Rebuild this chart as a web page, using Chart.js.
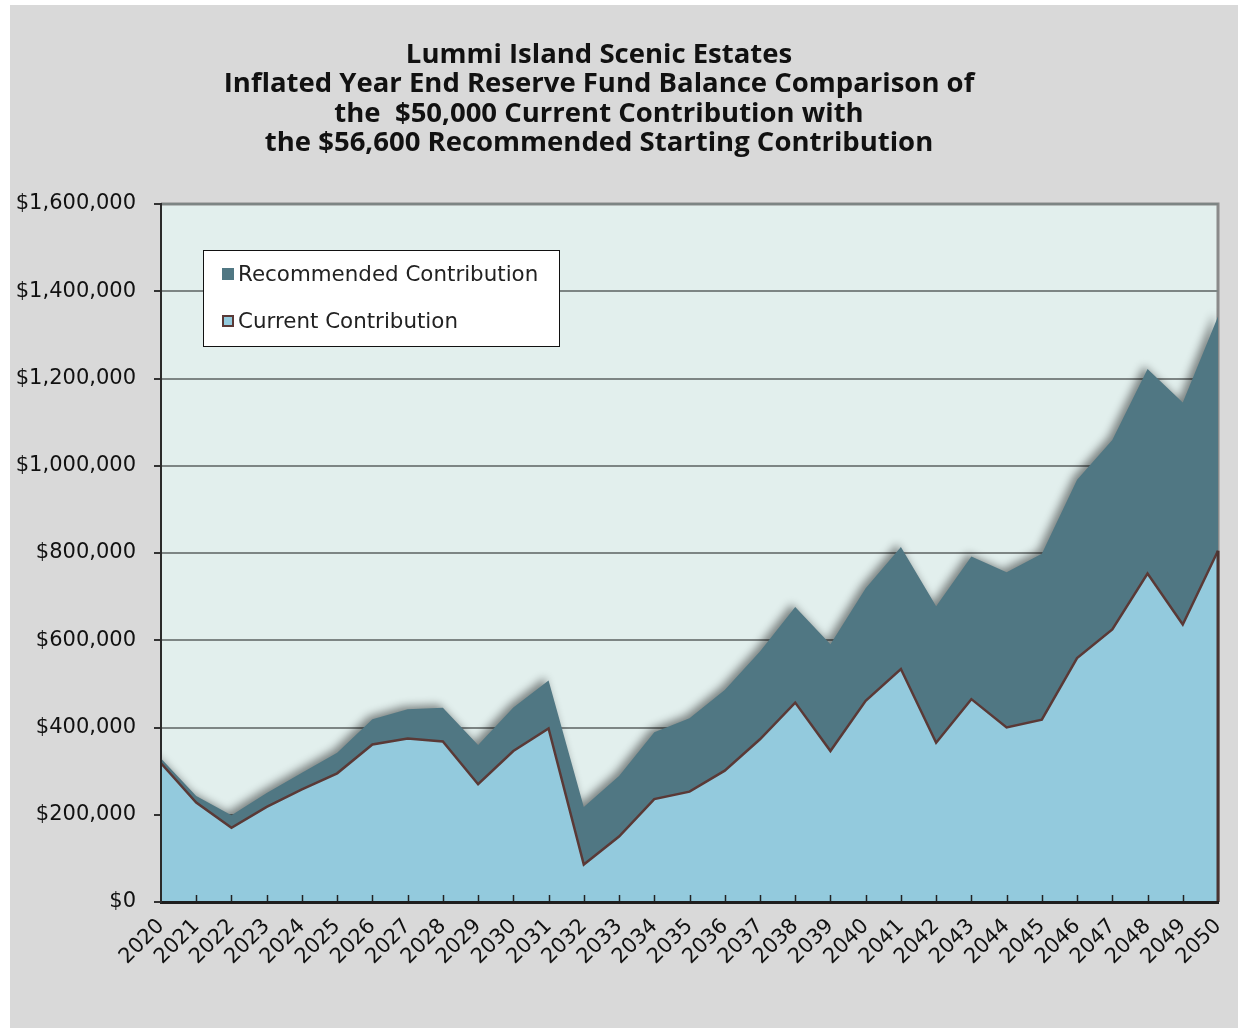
<!DOCTYPE html>
<html>
<head>
<meta charset="utf-8">
<script src="https://cdn.jsdelivr.net/npm/chart.js@4.4.0/dist/chart.umd.min.js"></script>
<style>
  html, body { margin: 0; padding: 0; background: #ffffff; }
  #wrap { position: absolute; left: 10px; top: 5px; width: 1228px; height: 1023px; background: #d9d9d9; }
  canvas { display: block; }
</style>
</head>
<body>
<div id="wrap"><canvas id="chart" width="1228" height="1023"></canvas></div>
<script>
// chart data
const years = ['2020', '2021', '2022', '2023', '2024', '2025', '2026', '2027', '2028', '2029',
    '2030', '2031', '2032', '2033', '2034', '2035', '2036', '2037', '2038', '2039',
    '2040', '2041', '2042', '2043', '2044', '2045', '2046', '2047', '2048', '2049', '2050'];
const recommended = [329000, 243000, 199000, 250000, 296000, 342000, 419000, 442000, 445000, 360000,
    446000, 508000, 218000, 289000, 389000, 421000, 486000, 574000, 676000, 591000,
    719000, 814000, 678000, 792000, 756000, 798000, 968000, 1059000, 1222000, 1145000, 1342000];
const current = [318000, 228000, 170000, 218000, 258000, 295000, 361000, 375000, 368000, 270000,
    346000, 398000, 86000, 150000, 236000, 253000, 301000, 373000, 457000, 346000,
    461000, 534000, 365000, 465000, 400000, 418000, 559000, 625000, 753000, 636000, 805000];
const yTicks = [0, 200000, 400000, 600000, 800000, 1000000, 1200000, 1400000, 1600000];
const titleLines = [
    'Lummi Island Scenic Estates',
    'Inflated Year End Reserve Fund Balance Comparison of',
    'the  $50,000 Current Contribution with',
    'the $56,600 Recommended Starting Contribution'
];
const legendItems = ['Recommended Contribution', 'Current Contribution'];

const FONT = '"Open Sans", "DejaVu Sans", sans-serif';
const TICKFONT = '"DejaVu Sans", sans-serif';
const recColor = '#507783';
const curColor = '#93cadd';
const curLine = '#5a3936';

// background, title, legend, inner ticks, shadow
const decor = {
    id: 'decor',
    beforeDraw(chart) {
        const { ctx, chartArea: a } = chart;
        ctx.save();
        ctx.fillStyle = '#e2efed';
        ctx.fillRect(a.left, a.top, a.right - a.left, a.bottom - a.top);
        // plot frame (top + right)
        ctx.strokeStyle = '#8a8a8a';
        ctx.lineWidth = 3;
        ctx.beginPath();
        ctx.moveTo(a.left, a.top);
        ctx.lineTo(a.right, a.top);
        ctx.lineTo(a.right, a.bottom);
        ctx.stroke();
        // title
        ctx.fillStyle = '#111';
        ctx.textAlign = 'center';
        ctx.textBaseline = 'middle';
        ctx.font = 'bold 24px ' + FONT;
        const w = ctx.measureText(titleLines[1]).width;
        const size = 24 * 751 / w;
        ctx.font = 'bold ' + size.toFixed(1) + 'px ' + FONT;
        const ys = [50, 79, 109, 138];
        titleLines.forEach((t, i) => ctx.fillText(t, 589, ys[i]));
        ctx.restore();
    },
    beforeDatasetsDraw(chart) {
        const ctx = chart.ctx;
        ctx.save();
        ctx.shadowColor = 'rgba(0,0,0,0.45)';
        ctx.shadowBlur = 9;
        ctx.shadowOffsetX = -4;
        ctx.shadowOffsetY = -3;
    },
    afterDatasetDraw(chart, args) {
        if (args.index === 1) chart.ctx.restore();
    },
    afterDatasetsDraw(chart) {
        const { ctx, chartArea: a, scales } = chart;
        const x = scales.x;
        ctx.save();
        // right edge below current series
        const meta = chart.getDatasetMeta(0);
        const last = meta.data[meta.data.length - 1];
        ctx.strokeStyle = '#4a3331';
        ctx.lineWidth = 3;
        ctx.beginPath();
        ctx.moveTo(a.right, last.y);
        ctx.lineTo(a.right, a.bottom);
        ctx.stroke();
        // inward ticks on x axis
        ctx.strokeStyle = '#222';
        ctx.lineWidth = 1.5;
        for (let i = 1; i < years.length - 1; i++) {
            const px = Math.round(x.getPixelForTick(i)) + 0.5;
            ctx.beginPath();
            ctx.moveTo(px, a.bottom);
            ctx.lineTo(px, a.bottom - 7);
            ctx.stroke();
        }
        // legend
        const lx = a.left + 42, ly = a.top + 46, lw = 356, lh = 96;
        ctx.fillStyle = '#ffffff';
        ctx.fillRect(lx, ly, lw, lh);
        ctx.strokeStyle = '#111';
        ctx.lineWidth = 1;
        ctx.strokeRect(lx + 0.5, ly + 0.5, lw, lh);
        ctx.font = '20px ' + TICKFONT;
        const lsize = 20 * 300 / ctx.measureText(legendItems[0]).width;
        ctx.font = lsize.toFixed(1) + 'px ' + TICKFONT;
        ctx.textAlign = 'left';
        ctx.textBaseline = 'middle';
        const rows = [ly + 24, ly + 71];
        // recommended marker
        ctx.fillStyle = recColor;
        ctx.fillRect(lx + 19, rows[0] - 6, 12, 12);
        // current marker
        ctx.fillStyle = curColor;
        ctx.fillRect(lx + 19, rows[1] - 6, 12, 12);
        ctx.strokeStyle = curLine;
        ctx.lineWidth = 2;
        ctx.strokeRect(lx + 20, rows[1] - 5, 10, 10);
        ctx.fillStyle = '#222';
        legendItems.forEach((t, i) => ctx.fillText(t, lx + 35, rows[i] + 1));
        ctx.restore();
    }
};

new Chart(document.getElementById('chart'), {
    type: 'line',
    data: {
        labels: years,
        datasets: [
            {
                label: legendItems[1],
                data: current,
                borderColor: curLine,
                borderWidth: 2.5,
                backgroundColor: curColor,
                fill: 'origin',
                pointRadius: 0,
                tension: 0
            },
            {
                label: legendItems[0],
                data: recommended,
                borderColor: recColor,
                borderWidth: 0,
                backgroundColor: recColor,
                fill: 'origin',
                pointRadius: 0,
                tension: 0
            }
        ]
    },
    options: {
        responsive: false,
        animation: false,
        devicePixelRatio: 1,
        layout: { padding: { left: 0, top: 199, right: 20, bottom: 0 } },
        plugins: {
            legend: { display: false },
            tooltip: { enabled: false },
            title: { display: false }
        },
        scales: {
            x: {
                offset: false,
                afterFit: s => { s.height = 126; s.paddingLeft = 0; s.paddingRight = 0; },
                grid: { display: false, drawTicks: false },
                border: { color: '#1e1e1e', width: 3, z: 1 },
                ticks: {
                    color: '#111',
                    font: { family: TICKFONT, size: 21 },
                    minRotation: 45,
                    maxRotation: 45,
                    autoSkip: false,
                    padding: 12
                }
            },
            y: {
                min: 0,
                max: 1600000,
                afterFit: s => { s.width = 151; s.paddingTop = 0; s.paddingBottom = 0; },
                afterBuildTicks: s => { s.ticks = yTicks.map(v => ({ value: v })); },
                grid: { color: '#7d8584', lineWidth: 2, tickLength: 7, tickColor: '#333' },
                border: { color: '#2a2a2a', width: 2, z: 1 },
                ticks: {
                    color: '#111',
                    font: { family: TICKFONT, size: 21 },
                    padding: 18,
                    callback: v => '$' + Number(v).toLocaleString('en-US')
                }
            }
        }
    },
    plugins: [decor]
});
</script>
</body>
</html>
